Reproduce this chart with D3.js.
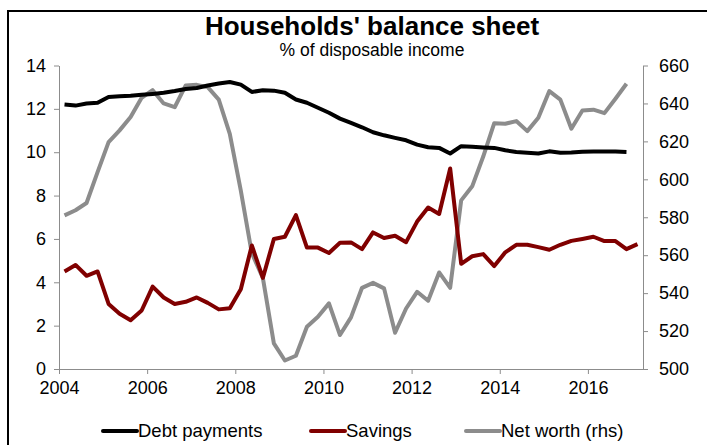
<!DOCTYPE html>
<meta charset="utf-8">
<style>
  body { margin: 0; background: #fff; }
  svg { display: block; font-family: "Liberation Sans", Arial, sans-serif; }
</style>
<svg width="707" height="445"></svg>
<script src="https://cdn.jsdelivr.net/npm/d3@7"></script>
<script>

// quarterly data, 2004Q1 onwards
var yearLabels = [2004, 2006, 2008, 2010, 2012, 2014, 2016];
var leftTicks = [0, 2, 4, 6, 8, 10, 12, 14];
var rightTicks = [500, 520, 540, 560, 580, 600, 620, 640, 660];

var debtPayments = [12.2, 12.15, 12.25, 12.28, 12.55, 12.58, 12.6, 12.65, 12.69, 12.74,
  12.82, 12.92, 12.96, 13.08, 13.17, 13.24, 13.12, 12.78, 12.86, 12.84,
  12.74, 12.43, 12.28, 12.05, 11.82, 11.55, 11.35, 11.15, 10.92, 10.78,
  10.66, 10.55, 10.35, 10.23, 10.2, 9.94, 10.28, 10.25, 10.22, 10.2,
  10.09, 10.01, 9.97, 9.94, 10.04, 9.98, 9.99, 10.02, 10.03, 10.03,
  10.03, 10.01];

var savings = [4.5, 4.8, 4.3, 4.5, 3.0, 2.55, 2.25, 2.7, 3.8, 3.3,
  3.0, 3.1, 3.3, 3.05, 2.75, 2.8, 3.68, 5.7, 4.2, 6.0,
  6.1, 7.1, 5.6, 5.6, 5.35, 5.82, 5.84, 5.53, 6.3, 6.04,
  6.15, 5.85, 6.8, 7.45, 7.15, 9.25, 4.85, 5.2, 5.3, 4.75,
  5.38, 5.73, 5.73, 5.62, 5.5, 5.73, 5.91, 6.0, 6.1, 5.9,
  5.9, 5.53, 5.76];

var netWorth = [581, 583.7, 587.5, 603.8, 619.6, 625.8, 632.8, 643, 647, 640,
  638, 649.5, 649.8, 648.6, 642, 624, 594, 561, 548, 513.5,
  504.5, 507, 522.3, 527.5, 534.6, 517.9, 527.2, 542.8, 545.4, 542.5,
  519.1, 531.9, 540.7, 536, 550.9, 542.8, 588.9, 596.3, 612, 629.6,
  629.3, 630.7, 625.4, 632.5, 646.5, 642, 626.7, 636.3, 636.7, 634.9,
  642.5, 650.4];

var svg = d3.select("svg");

var plotLeft = 59, plotRight = 643, plotTop = 65.5, plotBottom = 369;
var axisColor = "#8c8c8c";

// outer frame
svg.append("rect")
    .attr("x", 8).attr("y", 11)
    .attr("width", 760).attr("height", 500)
    .attr("fill", "none")
    .attr("stroke", "#000")
    .attr("stroke-width", 2);

svg.append("text")
    .attr("x", 372).attr("y", 35)
    .attr("text-anchor", "middle")
    .attr("font-size", 26)
    .attr("font-weight", "bold")
    .text("Households' balance sheet");

svg.append("text")
    .attr("x", 372).attr("y", 56)
    .attr("text-anchor", "middle")
    .attr("font-size", 17.5)
    .text("% of disposable income");

var x = d3.scaleLinear().domain([0, 53]).range([plotLeft, plotRight]);
var yL = d3.scaleLinear().domain([0, 14]).range([plotBottom, plotTop]);
var yR = d3.scaleLinear().domain([500, 660]).range([plotBottom, plotTop]);

function styleAxis(g) {
  g.select(".domain").attr("stroke", axisColor);
  g.selectAll(".tick line").attr("stroke", axisColor);
  g.selectAll(".tick text").attr("fill", "#000").attr("font-size", 18);
}

svg.append("g")
    .attr("transform", "translate(" + plotLeft + ",0)")
    .call(d3.axisLeft(yL).tickValues(leftTicks).tickSize(5).tickSizeOuter(0).tickPadding(8))
    .call(styleAxis);

svg.append("g")
    .attr("transform", "translate(" + plotRight + ",0)")
    .call(d3.axisRight(yR).tickValues(rightTicks).tickSize(5).tickSizeOuter(0).tickPadding(11))
    .call(styleAxis);

svg.append("g")
    .attr("transform", "translate(0," + plotBottom + ")")
    .call(d3.axisBottom(x)
      .tickValues(yearLabels.map(function(y) { return (y - 2004) * 4; }))
      .tickFormat(function(d) { return 2004 + d / 4; })
      .tickSize(5).tickSizeOuter(0).tickPadding(7))
    .call(styleAxis);

var series = [
  {name: "Net worth (rhs)", values: netWorth, y: yR, color: "#8c8c8c"},
  {name: "Savings", values: savings, y: yL, color: "#800000"},
  {name: "Debt payments", values: debtPayments, y: yL, color: "#000000"}
];

series.forEach(function(s) {
  var line = d3.line()
      .x(function(d, i) { return x(i + 0.5); })
      .y(function(d) { return s.y(d); });
  svg.append("path")
      .datum(s.values)
      .attr("fill", "none")
      .attr("stroke", s.color)
      .attr("stroke-width", 4)
      .attr("stroke-linejoin", "round")
      .attr("d", line);
});

// legend
var legendX = [103, 311, 466];
var legendItems = [series[2], series[1], series[0]];
var legend = svg.append("g");
legendItems.forEach(function(s, i) {
  legend.append("line")
      .attr("x1", legendX[i]).attr("x2", legendX[i] + 34)
      .attr("y1", 431).attr("y2", 431)
      .attr("stroke", s.color)
      .attr("stroke-width", 4)
      .attr("stroke-linecap", "round");
  legend.append("text")
      .attr("x", legendX[i] + 35).attr("y", 437)
      .attr("font-size", 18.5)
      .text(s.name);
});

</script>
